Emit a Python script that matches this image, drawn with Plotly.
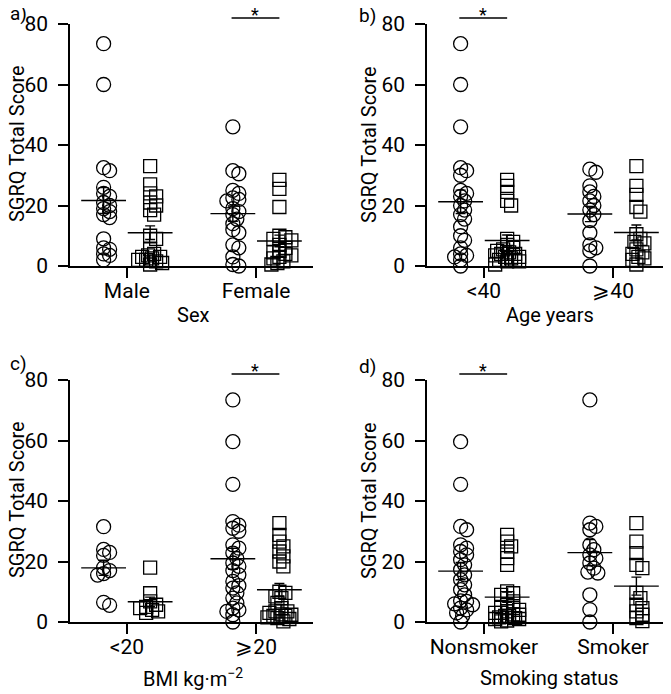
import math
import numpy as np
import plotly.graph_objects as go

# page has an 8px body margin, so the figure is drawn 8px in from the corner
PAD = 8
W, H = 671 - PAD, 694 - PAD

# SGRQ total score, circles = first cohort, squares = second cohort
sex_cats = ["Male", "Female"]
male_circ = [73.5, 60, 32.5, 31.5, 26, 24, 23, 21, 20, 19, 18, 17, 16, 9, 6, 5.5, 4, 3.5, 2]
male_sq = [33, 27, 24, 23, 21, 20, 18.5, 17, 10, 9, 5.5, 4, 3.5, 3, 3, 2.5, 2, 2, 1.5, 1, 0.5]
female_circ = [46, 31.5, 30.5, 25, 24, 22.5, 22, 21.5, 19, 18, 17, 15.5, 14, 12, 11, 7, 6, 3, 0.5, 0]
female_sq = [28.5, 25.5, 19.5, 10, 9.5, 9, 8.5, 7, 6, 5, 4.5, 4, 3.5, 3, 2.5, 1.5, 1, 0.5]

age_cats = ["<40", "⩾40"]
lt40_circ = [73.5, 60, 46, 32.5, 31.5, 30, 25, 24, 23, 21.5, 20, 18.5, 17, 15.5, 13, 10, 8.5, 6, 4, 3.5, 3, 2, 0]
lt40_sq = [28.5, 26.5, 24.5, 21.5, 20, 9, 8, 7, 6, 5.5, 5, 4.5, 4, 4, 3.5, 3, 3, 2.5, 2, 2, 1.5, 1.5, 0.5]
ge40_circ = [32, 31, 26.5, 24.5, 23, 21.5, 20, 18.5, 17, 15, 11, 7, 6, 5, 0]
ge40_sq = [33, 26.5, 23.5, 19.5, 18, 10.5, 9, 8, 7.5, 5.5, 4.5, 4, 3, 2.5, 2, 0.5]

bmi_cats = ["<20", "⩾20"]
lt20_circ = [31.5, 24, 23, 22, 18, 17, 16, 15.5, 6.5, 5.5]
lt20_sq = [18, 9.5, 6.8, 5.7, 5, 4.6, 4, 3.5, 3]
ge20_circ = [73.4, 59.6, 45.5, 33.2, 32, 31, 30, 25.5, 24.4, 22.8, 21, 19.5, 18.4, 17, 15.6, 13.4, 12,
             11.2, 9.6, 7.9, 6.3, 4.6, 4, 3.5, 2.4, 0]
ge20_sq = [32.7, 28.8, 26.6, 25, 23.3, 21.7, 20, 18.4, 10, 9.6, 8.5, 7.9, 6.3, 4.6, 3.5, 3.5, 3, 2.5,
           2.4, 2, 2, 1.5, 1.3, 1, 0.2]

smoke_cats = ["Nonsmoker", "Smoker"]
non_circ = [59.6, 45.5, 31.6, 30.5, 25.5, 24.4, 23.3, 22.2, 20.6, 18.9, 17.3, 15.6, 14, 12.3, 10.7, 9,
            7, 6.8, 6, 5.7, 4.6, 4, 3, 2, 0]
non_sq = [28.8, 26.6, 25, 23.3, 21.1, 18.9, 10.1, 9.5, 9, 7.9, 6.8, 5.7, 5, 4.6, 4, 3.5, 3, 3, 2.5,
          2.4, 2, 2, 1.5, 1.3, 1, 1, 0.5, 0.2]
smk_circ = [73.4, 32.7, 31.6, 30.5, 25.5, 23.9, 22.2, 21.1, 19.5, 17.8, 16.5, 16.2, 9, 4.1, 0]
smk_sq = [32.7, 26.6, 22.8, 18.9, 17.8, 9.6, 7.9, 5.7, 4.6, 3.5, 2.4, 1.3, 0.3]

XR = [0.56, 2.44]
PX_X = 129.5   # px per x unit
PX_Y = 3.03    # px per y unit
OFF = 0.18


def swarm(vals, center):
    # small beeswarm, points may overlap like in the prism plot
    placed = []
    xs = []
    for v in vals:
        yp = v * PX_Y
        best, bestd = 0, -1
        for k in range(0, 7):
            for o in ([0] if k == 0 else [2 * k, -2 * k]):
                d = min([math.hypot(o - a, yp - b) for a, b in placed] or [99])
                if d >= 6:
                    best, bestd = o, 99
                    break
                if d > bestd:
                    best, bestd = o, d
            if bestd == 99:
                break
        placed.append((best, yp))
        xs.append(center + best / PX_X)
    return xs


def px(x):
    return (x - PAD) / W


def py(y):
    return 1 - (y - PAD) / H


panels = [
    ("", sex_cats, [male_circ, female_circ], [male_sq, female_sq], 2, "a)", "Sex"),
    ("2", age_cats, [lt40_circ, ge40_circ], [lt40_sq, ge40_sq], 1, "b)", "Age years"),
    ("3", bmi_cats, [lt20_circ, ge20_circ], [lt20_sq, ge20_sq], 2, "c)", "BMI kg·m<sup>−2</sup>"),
    ("4", smoke_cats, [non_circ, smk_circ], [non_sq, smk_sq], 1, "d)", "Smoking status"),
]
# pixel boxes in the screenshot: left, right, top(y=80), bottom(y=0)
boxes = [(70, 313, 24, 266), (427, 670, 24, 266), (70, 313, 380, 622), (427, 670, 380, 622)]
# letter x, letter y, y-title x
label_pos = [(8, 14, 17), (357, 16, 369), (8, 363, 17), (357, 366, 369)]

fig = go.Figure()
FONT = "Roboto, Arial"
annotations = []
shapes = []

for (n, cats, circs, sqs, sig, letter, xtitle), (l, r, t, b), (lx, ly, tx) in zip(panels, boxes, label_pos):
    xa, ya = "x" + n, "y" + n
    for gi in range(2):
        g = gi + 1
        fig.add_trace(go.Scatter(
            x=swarm(circs[gi], g - OFF), y=circs[gi], xaxis=xa, yaxis=ya, mode="markers",
            cliponaxis=False, showlegend=False,
            marker=dict(symbol="circle-open", size=14, color="black", line=dict(width=1.3))))
        fig.add_trace(go.Scatter(
            x=swarm(sqs[gi], g + OFF), y=sqs[gi], xaxis=xa, yaxis=ya, mode="markers",
            cliponaxis=False, showlegend=False,
            marker=dict(symbol="square-open", size=13, color="black", line=dict(width=1.3))))
    for gi in range(2):
        for grp, c in ((circs[gi], gi + 1 - OFF), (sqs[gi], gi + 1 + OFF)):
            arr = np.array(grp)
            sem = arr.std(ddof=1) / math.sqrt(len(arr))
            fig.add_trace(go.Scatter(
                x=[c], y=[arr.mean()], xaxis=xa, yaxis=ya, mode="markers", showlegend=False,
                cliponaxis=False,
                marker=dict(symbol="line-ew", size=32, color="black", line=dict(width=1.4, color="black")),
                error_y=dict(type="data", array=[sem], width=5, thickness=1.4, color="black")))

    fig.update_layout(**{
        "xaxis" + n: dict(domain=[px(l), px(r)], range=XR, anchor=ya, tickvals=[1, 2], ticktext=cats,
                          showline=True, linecolor="black", linewidth=1.5, ticks="outside", ticklen=10,
                          tickwidth=1.5, tickcolor="black", showgrid=False, zeroline=False,
                          ticklabelstandoff=-5, automargin=False,
                          tickfont=dict(family=FONT, size=21, color="black")),
        "yaxis" + n: dict(domain=[py(b), py(t)], range=[0, 80], anchor=xa, tickvals=[0, 20, 40, 60, 80],
                          showline=True, linecolor="black", linewidth=1.5, ticks="outside", ticklen=10,
                          tickwidth=1.5, tickcolor="black", showgrid=False, zeroline=False,
                          ticklabelstandoff=6, automargin=False,
                          tickfont=dict(family=FONT, size=21, color="black")),
    })

    # significance bar
    x0, x1 = sig - 0.19, sig + 0.18
    shapes.append(dict(type="line", xref=xa + " domain", yref=ya + " domain",
                       x0=(x0 - XR[0]) / (XR[1] - XR[0]), x1=(x1 - XR[0]) / (XR[1] - XR[0]),
                       y0=82 / 80, y1=82 / 80, line=dict(color="black", width=1.4)))
    annotations.append(dict(text="*", xref=xa + " domain", yref=ya + " domain",
                            x=((x0 + x1) / 2 - XR[0]) / (XR[1] - XR[0]), y=83 / 80,
                            showarrow=False, xanchor="center", yanchor="middle",
                            font=dict(family=FONT, size=18, color="black")))
    # texts
    annotations.append(dict(text=letter, xref="paper", yref="paper", x=px(lx), y=py(ly),
                            xanchor="left", yanchor="middle", showarrow=False,
                            font=dict(family=FONT, size=19, color="black")))
    annotations.append(dict(text="SGRQ Total Score", xref="paper", yref="paper", x=px(tx),
                            y=py((t + b) / 2 - 1), textangle=-90, showarrow=False,
                            xanchor="center", yanchor="middle",
                            font=dict(family=FONT, size=20, color="black")))
    annotations.append(dict(text=xtitle, xref="paper", yref="paper", x=px((l + r) / 2 + 1),
                            y=py(b + (49 if t < 100 else 56)), showarrow=False,
                            xanchor="center", yanchor="middle",
                            font=dict(family=FONT, size=20, color="black")))

fig.update_layout(width=W, height=H, margin=dict(l=0, r=0, t=0, b=0),
                  paper_bgcolor="white", plot_bgcolor="white",
                  annotations=annotations, shapes=shapes)
fig.write_html("out.html")
